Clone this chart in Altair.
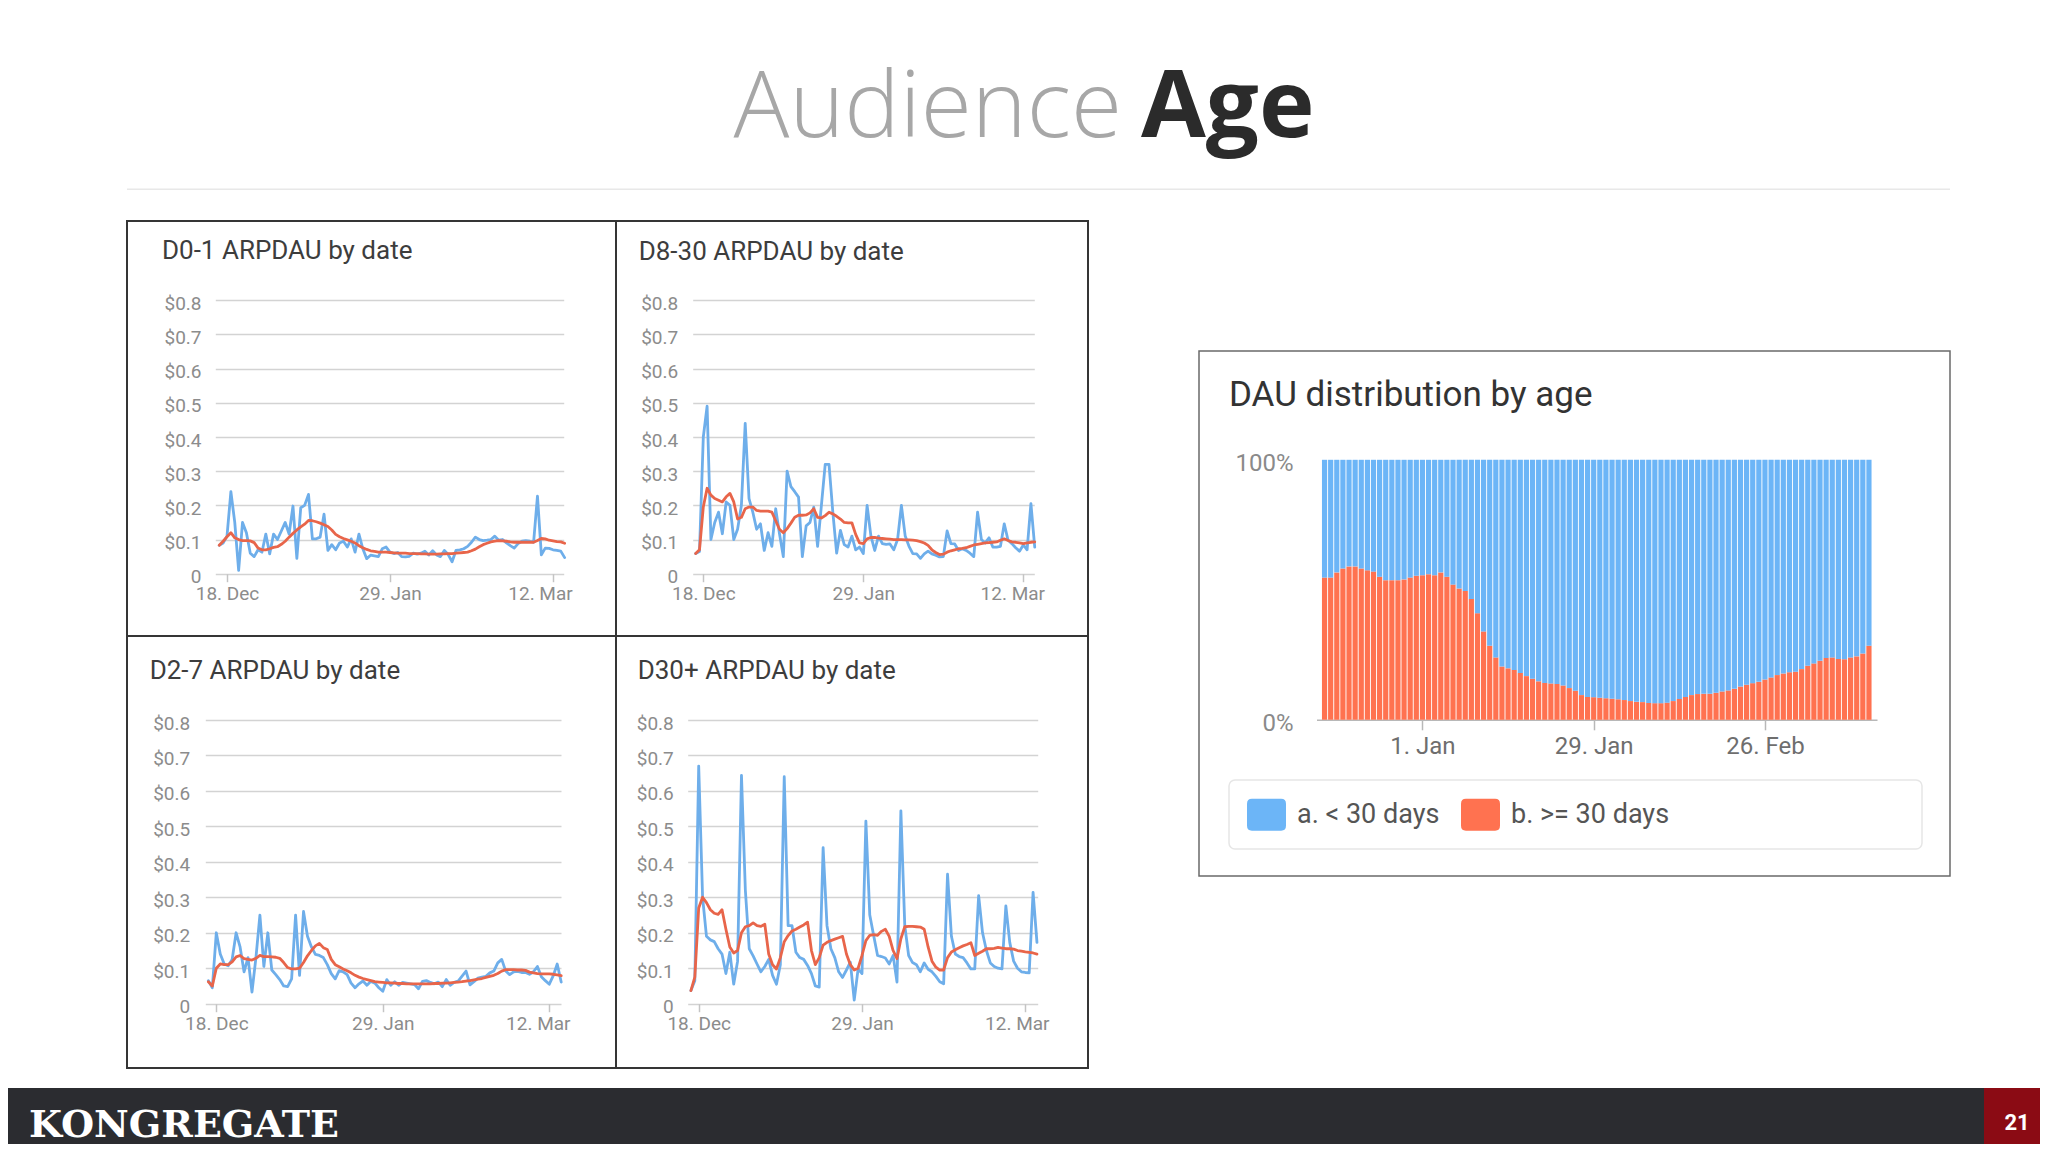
import altair as alt
import pandas as pd

# ---------------------------------------------------------------- canvas
W, H = 2032, 1136          # page minus the 8px body margin
M = 8


def p(v):
    """reference-page pixel -> chart pixel"""
    return round(v - M, 2)


DAY_MS = 86400000


def ms(s):
    return int(pd.Timestamp(s, tz="UTC").value // 10**6)


DEC18, JAN29, MAR12 = ms("2017-12-18"), ms("2018-01-29"), ms("2018-03-12")
JAN1, FEB26 = ms("2018-01-01"), ms("2018-02-26")

DATES = [d.strftime("%Y-%m-%d") for d in pd.date_range("2017-12-16", periods=90)]

BLUE_LINE, RED_LINE = "#6eaeea", "#e8654a"
BLUE_BAR, RED_BAR = "#6cb5f7", "#ff7250"

# ---------------------------------------------------------------- data
d01_daily = [0.083, 0.09, 0.11, 0.24, 0.15, 0.01, 0.15, 0.12, 0.06, 0.05,
             0.07, 0.063, 0.116, 0.058, 0.116, 0.1, 0.125, 0.15, 0.116, 0.198,
             0.045, 0.193, 0.2, 0.232, 0.102, 0.102, 0.107, 0.174, 0.068, 0.085,
             0.07, 0.09, 0.095, 0.078, 0.102, 0.063, 0.116, 0.073, 0.044, 0.054,
             0.052, 0.05, 0.073, 0.078, 0.063, 0.059, 0.062, 0.05, 0.049, 0.051,
             0.06, 0.057, 0.06, 0.066, 0.055, 0.067, 0.055, 0.05, 0.068, 0.056,
             0.035, 0.068, 0.07, 0.073, 0.08, 0.092, 0.107, 0.1, 0.097, 0.098,
             0.1, 0.11, 0.098, 0.1, 0.09, 0.082, 0.075, 0.088, 0.095, 0.097,
             0.095, 0.092, 0.227, 0.055, 0.075, 0.074, 0.07, 0.068, 0.066, 0.047]
d01_avg = [0.083, 0.095, 0.108, 0.12, 0.105, 0.1, 0.097, 0.097, 0.096, 0.091,
           0.075, 0.07, 0.07, 0.073, 0.077, 0.079, 0.086, 0.095, 0.107, 0.118,
           0.128, 0.137, 0.145, 0.156, 0.155, 0.152, 0.148, 0.143, 0.138, 0.128,
           0.115, 0.108, 0.103, 0.099, 0.095, 0.09, 0.082, 0.076, 0.071, 0.067,
           0.065, 0.063, 0.063, 0.063, 0.062, 0.061, 0.06, 0.06, 0.06, 0.059,
           0.059, 0.059, 0.058, 0.058, 0.057, 0.057, 0.057, 0.058, 0.058, 0.059,
           0.059, 0.06, 0.061, 0.062, 0.063, 0.067, 0.072, 0.079, 0.085, 0.089,
           0.093, 0.095, 0.097, 0.096, 0.095, 0.093, 0.092, 0.092, 0.092, 0.092,
           0.092, 0.092, 0.097, 0.103, 0.102, 0.098, 0.096, 0.094, 0.093, 0.089]

d830_daily = [0.059, 0.065, 0.40, 0.49, 0.1, 0.15, 0.18, 0.117, 0.21, 0.2,
              0.1, 0.13, 0.2, 0.44, 0.22, 0.18, 0.13, 0.146, 0.068, 0.12,
              0.08, 0.19, 0.117, 0.05, 0.3, 0.255, 0.24, 0.224, 0.05, 0.14,
              0.15, 0.195, 0.08, 0.2, 0.32, 0.32, 0.18, 0.06, 0.127, 0.085,
              0.078, 0.11, 0.07, 0.078, 0.059, 0.2, 0.11, 0.068, 0.11, 0.088,
              0.086, 0.087, 0.07, 0.1, 0.2, 0.11, 0.08, 0.059, 0.058, 0.045,
              0.058, 0.066, 0.058, 0.054, 0.049, 0.05, 0.125, 0.088, 0.087, 0.068,
              0.073, 0.068, 0.06, 0.05, 0.18, 0.1, 0.09, 0.105, 0.078, 0.078,
              0.08, 0.146, 0.098, 0.088, 0.076, 0.066, 0.084, 0.07, 0.205, 0.078]
d830_avg = [0.059, 0.07, 0.195, 0.25, 0.23, 0.22, 0.215, 0.21, 0.225, 0.235,
            0.21, 0.16, 0.165, 0.19, 0.195, 0.195, 0.185, 0.183, 0.183, 0.183,
            0.18, 0.155, 0.13, 0.12, 0.132, 0.148, 0.165, 0.171, 0.171, 0.172,
            0.178, 0.19, 0.165, 0.163, 0.17, 0.18, 0.175, 0.168, 0.16, 0.15,
            0.149, 0.149, 0.115, 0.09, 0.088, 0.102, 0.106, 0.106, 0.104, 0.103,
            0.102, 0.101, 0.1, 0.1, 0.1, 0.099, 0.099, 0.098, 0.097, 0.094,
            0.09, 0.083, 0.07, 0.062, 0.056, 0.057, 0.063, 0.067, 0.07, 0.073,
            0.074, 0.076, 0.08, 0.084, 0.086, 0.088, 0.09, 0.091, 0.092, 0.093,
            0.098, 0.102, 0.097, 0.093, 0.092, 0.09, 0.088, 0.09, 0.092, 0.093]

d27_daily = [0.065, 0.045, 0.2, 0.14, 0.112, 0.107, 0.125, 0.2, 0.16, 0.09,
             0.13, 0.033, 0.13, 0.25, 0.105, 0.2, 0.095, 0.082, 0.068, 0.05,
             0.048, 0.07, 0.25, 0.08, 0.26, 0.19, 0.16, 0.139, 0.136, 0.13,
             0.11, 0.085, 0.07, 0.093, 0.09, 0.082, 0.058, 0.045, 0.056, 0.064,
             0.052, 0.063, 0.058, 0.045, 0.035, 0.068, 0.052, 0.062, 0.052, 0.06,
             0.058, 0.056, 0.054, 0.042, 0.063, 0.065, 0.06, 0.056, 0.061, 0.048,
             0.068, 0.052, 0.06, 0.064, 0.078, 0.092, 0.053, 0.062, 0.072, 0.075,
             0.077, 0.087, 0.092, 0.115, 0.125, 0.092, 0.082, 0.09, 0.091, 0.088,
             0.088, 0.083, 0.09, 0.105, 0.076, 0.065, 0.055, 0.079, 0.112, 0.061]
d27_avg = [0.062, 0.05, 0.1, 0.112, 0.11, 0.11, 0.118, 0.132, 0.136, 0.127,
           0.125, 0.123, 0.128, 0.136, 0.133, 0.133, 0.132, 0.131, 0.128, 0.116,
           0.102, 0.098, 0.098, 0.1, 0.116, 0.135, 0.15, 0.163, 0.17, 0.158,
           0.153, 0.125, 0.11, 0.104, 0.098, 0.093, 0.087, 0.08, 0.075, 0.071,
           0.068, 0.065, 0.062, 0.061, 0.06, 0.059, 0.059, 0.058, 0.057, 0.057,
           0.056, 0.056, 0.056, 0.056, 0.056, 0.056, 0.056, 0.057, 0.057, 0.058,
           0.058, 0.059, 0.06, 0.061, 0.062, 0.064, 0.065, 0.067, 0.069, 0.071,
           0.074, 0.077, 0.08, 0.085, 0.092, 0.096, 0.096, 0.096, 0.095, 0.095,
           0.094, 0.089, 0.087, 0.085, 0.084, 0.084, 0.084, 0.083, 0.081, 0.079]

d30_daily = [0.037, 0.065, 0.67, 0.3, 0.19, 0.18, 0.175, 0.155, 0.14, 0.085,
             0.145, 0.055, 0.12, 0.644, 0.32, 0.155, 0.135, 0.112, 0.09, 0.105,
             0.125, 0.08, 0.055, 0.11, 0.64, 0.22, 0.22, 0.145, 0.13, 0.125,
             0.108, 0.085, 0.05, 0.047, 0.44, 0.22, 0.155, 0.13, 0.09, 0.074,
             0.095, 0.117, 0.01, 0.098, 0.085, 0.515, 0.25, 0.192, 0.136, 0.133,
             0.129, 0.112, 0.136, 0.061, 0.544, 0.22, 0.136, 0.116, 0.11, 0.09,
             0.115, 0.097, 0.09, 0.077, 0.062, 0.056, 0.365, 0.19, 0.14, 0.133,
             0.13, 0.115, 0.098, 0.098, 0.305, 0.2, 0.15, 0.115, 0.105, 0.1,
             0.098, 0.276, 0.173, 0.12, 0.1, 0.09, 0.088, 0.087, 0.314, 0.173]
d30_avg = [0.037, 0.075, 0.27, 0.3, 0.285, 0.265, 0.255, 0.252, 0.265, 0.21,
           0.16, 0.143, 0.15, 0.2, 0.217, 0.22, 0.228, 0.22, 0.218, 0.224,
           0.14, 0.11, 0.098, 0.13, 0.175, 0.192, 0.205, 0.21, 0.216, 0.222,
           0.23, 0.15, 0.11, 0.13, 0.165, 0.173, 0.178, 0.182, 0.186, 0.19,
           0.14, 0.11, 0.095, 0.1, 0.136, 0.178, 0.193, 0.195, 0.193, 0.204,
           0.21, 0.19, 0.15, 0.127, 0.183, 0.217, 0.218, 0.218, 0.217, 0.216,
           0.21, 0.16, 0.12, 0.103, 0.095, 0.095, 0.13, 0.146, 0.152, 0.158,
           0.163, 0.167, 0.172, 0.136, 0.142, 0.148, 0.155, 0.155, 0.156, 0.159,
           0.157, 0.155, 0.155, 0.154, 0.15, 0.148, 0.146, 0.145, 0.143, 0.14]

# share (%) of DAU that is >= 30 days old
dau_old_pct = [54.7, 54.7, 56.7, 58.2, 59, 59, 58.2, 57.5, 57, 55,
               53.7, 53.7, 53.7, 54, 54.7, 55.4, 55.6, 56, 55.6, 56.7,
               55, 52, 50.5, 49.5, 46.5, 41, 34, 28.5, 24, 20.5,
               19.8, 19.2, 18, 16.8, 15.8, 14.8, 14.2, 14, 13.8, 13.2,
               12.2, 11.2, 9.5, 8.8, 8.7, 8.5, 8.3, 8.1, 7.9, 7.6,
               7.2, 6.9, 6.8, 6.5, 6.4, 6.4, 6.6, 7.2, 8.0, 8.8,
               9.5, 9.9, 10.0, 10.0, 10.4, 10.9, 11.3, 11.9, 12.8, 13.5,
               14.1, 14.6, 15.5, 16.3, 17.2, 17.8, 18.3, 18.5, 19.5, 20.8,
               21.7, 22.7, 23.8, 24.0, 23.4, 23.3, 24.0, 24.4, 25.5, 28.5]

Y_TICKS = [0, 0.1, 0.2, 0.3, 0.4, 0.5, 0.6, 0.7, 0.8]
DAU_GROUPS = ["a. < 30 days", "b. >= 30 days"]

# ---------------------------------------------------------------- layout of the four small panels
PANELS = [
    dict(title="D0-1 ARPDAU by date", daily=d01_daily, avg=d01_avg, tx=162, ty=259,
         gx0=215.3, gx1=563.7, t18=227, t12=553, ytop=300.3, ybot=573.7, ledge=201, last=-13),
    dict(title="D8-30 ARPDAU by date", daily=d830_daily, avg=d830_avg, tx=638.7, ty=260.3,
         gx0=692.7, gx1=1034.3, t18=703.3, t12=1023.3, ytop=300.3, ybot=573.7, ledge=677.7, last=-11),
    dict(title="D2-7 ARPDAU by date", daily=d27_daily, avg=d27_avg, tx=149.7, ty=678.7,
         gx0=205.3, gx1=561, t18=216.3, t12=549.3, ytop=720, ybot=1003.7, ledge=189.7, last=-11.5),
    dict(title="D30+ ARPDAU by date", daily=d30_daily, avg=d30_avg, tx=637.7, ty=678.7,
         gx0=687.7, gx1=1037.7, t18=698.7, t12=1025.3, ytop=720, ybot=1003.7, ledge=673.3, last=-8.5),
]


def panel_chart(P):
    n = len(DATES)
    df = pd.DataFrame({
        "date": DATES + DATES,
        "value": P["daily"] + P["avg"],
        "series": ["Daily"] * n + ["7-day average"] * n,
    })
    ppd = (P["t12"] - P["t18"]) / 84.0
    dom0 = DEC18 + (P["gx0"] - P["t18"]) / ppd * DAY_MS
    dom1 = MAR12 + (P["gx1"] - P["t12"]) / ppd * DAY_MS
    lp = 12
    last_label_shift = {"condition": {"test": f"datum.value > {JAN29 + DAY_MS}", "value": P["last"]},
                        "value": 0}
    return alt.Chart(df).mark_line(strokeWidth=2.8, strokeJoin="round", strokeCap="round").encode(
        x=alt.X("date:T",
                scale=alt.Scale(type="utc", domain=[dom0, dom1], range=[p(P["gx0"]), p(P["gx1"])], nice=False),
                axis=alt.Axis(orient="bottom", offset=p(P["ybot"]) - H, title=None, domain=False, grid=False,
                              ticks=True, tickSize=8, tickColor="#c4c4c4", tickWidth=1.5,
                              values=[DEC18, JAN29, MAR12], format="%-d. %b", labelFlush=False,
                              labelOffset=last_label_shift,
                              labelFont="Roboto", labelFontSize=19, labelColor="#8c8c8c", labelPadding=3)),
        y=alt.Y("value:Q",
                scale=alt.Scale(domain=[0, 0.8], range=[p(P["ybot"]), p(P["ytop"])], nice=False),
                axis=alt.Axis(orient="left", offset=-(p(P["ledge"]) + lp), title=None, domain=False,
                              ticks=False, tickSize=0, labelPadding=lp, labelOffset=3, values=Y_TICKS,
                              labelExpr="datum.value == 0 ? '0' : '$' + format(datum.value, '.1f')",
                              grid=True, gridColor="#d3d3d3", gridWidth=1.6,
                              labelFont="Roboto", labelFontSize=19, labelColor="#8c8c8c")),
        color=alt.Color("series:N", scale=alt.Scale(domain=["Daily", "7-day average"],
                                                    range=[BLUE_LINE, RED_LINE]), legend=None),
    )


def dau_chart():
    rows = []
    for d, old in zip(DATES, dau_old_pct):
        rows.append({"date": d, "group": DAU_GROUPS[1], "lo": 0.0, "hi": old})
        rows.append({"date": d, "group": DAU_GROUPS[0], "lo": old, "hi": 100.0})
    df = pd.DataFrame(rows)
    rounded = ("M-0.75,-0.82L0.75,-0.82Q1,-0.82 1,-0.57L1,0.57Q1,0.82 0.75,0.82"
               "L-0.75,0.82Q-1,0.82 -1,0.57L-1,-0.57Q-1,-0.82 -0.75,-0.82Z")
    return alt.Chart(df).mark_bar(width=5.2).encode(
        x=alt.X("date:T",
                scale=alt.Scale(type="utc", domain=[ms("2017-12-15T12:00"), ms("2018-03-15T12:00")],
                                range=[p(1316.5), p(1877)], nice=False),
                axis=alt.Axis(orient="bottom", offset=p(719.8) - H, title=None, grid=False,
                              domain=True, domainColor="#b8b8b8", domainWidth=1.5,
                              ticks=True, tickSize=10, tickColor="#b8b8b8", tickWidth=1.5,
                              values=[JAN1, JAN29, FEB26], format="%-d. %b", labelFlush=False,
                              labelFont="Roboto", labelFontSize=24, labelColor="#6e6e6e", labelPadding=5)),
        y=alt.Y("lo:Q",
                scale=alt.Scale(domain=[0, 100], range=[p(719.8), p(459.8)], nice=False),
                axis=alt.Axis(orient="left", offset=-(p(1293) + 10), title=None, domain=False,
                              ticks=False, tickSize=0, labelPadding=10, labelOffset=4, values=[0, 100],
                              labelExpr="datum.value + '%'", grid=False,
                              labelFont="Roboto", labelFontSize=24, labelColor="#8a8a8a")),
        y2="hi:Q",
        color=alt.Color("group:N",
                        scale=alt.Scale(domain=DAU_GROUPS, range=[BLUE_BAR, RED_BAR]),
                        legend=alt.Legend(orient="none", legendX=p(1247), legendY=p(795), direction="horizontal",
                                          title=None, symbolType=rounded, symbolSize=1521,
                                          symbolStrokeWidth=0, symbolOpacity=1, padding=0,
                                          labelFont="Roboto", labelFontSize=27, labelColor="#555555",
                                          labelOffset=11, columnPadding=21)),
    )


def rects(df, **mark):
    return alt.Chart(df).mark_rect(**mark).encode(
        x=alt.X("x0:Q", scale=None), x2="x1:Q",
        y=alt.Y("y0:Q", scale=None), y2="y1:Q")


def text(s, x, y, size, color, weight="normal", font="Roboto", align="left"):
    return alt.Chart(pd.DataFrame({"t": [s]})).mark_text(
        align=align, baseline="alphabetic", font=font, fontSize=size, fontWeight=weight, color=color
    ).encode(x=alt.value(p(x)), y=alt.value(p(y)), text="t:N")


# ---------------------------------------------------------------- decorations (slide layout)
footer = pd.DataFrame({"x0": [0], "x1": [W], "y0": [p(1088)], "y1": [H]})
pagebox = pd.DataFrame({"x0": [p(1984)], "x1": [W], "y0": [p(1088)], "y1": [H]})
sep = pd.DataFrame({"x0": [p(127)], "x1": [p(1950)], "y0": [p(188.5)], "y1": [p(190)]})
frames = pd.DataFrame({
    "x0": [p(127), p(616), p(127), p(616)],
    "x1": [p(616), p(1088), p(616), p(1088)],
    "y0": [p(221), p(221), p(636), p(636)],
    "y1": [p(636), p(636), p(1068), p(1068)],
})
dau_frame = pd.DataFrame({"x0": [p(1199)], "x1": [p(1950)], "y0": [p(351)], "y1": [p(876)]})
legend_box = pd.DataFrame({"x0": [p(1229)], "x1": [p(1922)], "y0": [p(780)], "y1": [p(849)]})

layers = [
    rects(footer, color="#2b2c30"),
    rects(pagebox, color="#8b0b14"),
    rects(sep, color="#e8e8e8"),
    rects(frames, fillOpacity=0, stroke="#353535", strokeWidth=2),
    rects(dau_frame, fillOpacity=0, stroke="#6a6a6a", strokeWidth=1.5),
    rects(legend_box, fill="white", stroke="#e6e6e6", strokeWidth=1.5, cornerRadius=6),
]
layers += [panel_chart(P) for P in PANELS]
layers.append(dau_chart())

layers += [text(P["title"], P["tx"], P["ty"], 26, "#3d3d3d") for P in PANELS]
layers += [
    text("Audience", 1122, 137, 93, "#a7a7a7", weight=300, font="Open Sans", align="right"),
    text("Age", 1141, 137, 94, "#2b2b2b", weight="bold", font="Open Sans"),
    text("DAU distribution by age", 1229, 406, 35, "#333333"),
    text("KONGREGATE", 29, 1137, 38, "white", weight="bold", font="DejaVu Serif"),
    text("21", 2017, 1130, 22, "white", weight="bold", align="center"),
]

chart = alt.layer(*layers).resolve_scale(
    x="independent", y="independent", color="independent"
).properties(width=W, height=H, padding=0, background="white").configure_view(strokeWidth=0)

chart.save("out.html", embed_options={"renderer": "svg", "actions": False})
